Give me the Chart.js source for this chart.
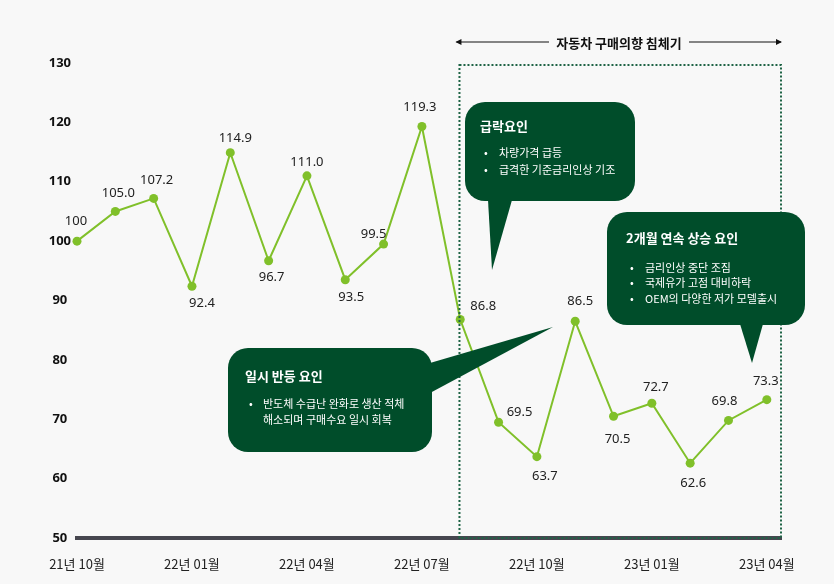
<!DOCTYPE html>
<html lang="ko">
<head>
    <meta charset="UTF-8">
    <title>자동차 구매의향</title>
    <script src="https://cdn.jsdelivr.net/npm/chart.js"></script>
    <style>
        body {
            margin: 0;
            padding: 0;
            background-color: #f8f8f8;
        }
        .chart-container {
            width: 834px;
            height: 584px;
        }
    </style>
</head>
<body>
    <div class="chart-container">
        <canvas id="intentChart"></canvas>
    </div>
    <script>
        // monthly purchase intent index, 21.10 = 100
        const months = ['21년 10월', '21년 11월', '21년 12월', '22년 01월', '22년 02월', '22년 03월', '22년 04월',
            '22년 05월', '22년 06월', '22년 07월', '22년 08월', '22년 09월', '22년 10월', '22년 11월',
            '22년 12월', '23년 01월', '23년 02월', '23년 03월', '23년 04월'];
        const values = [100, 105.0, 107.2, 92.4, 114.9, 96.7, 111.0, 93.5, 99.5, 119.3,
            86.8, 69.5, 63.7, 86.5, 70.5, 72.7, 62.6, 69.8, 73.3];
        const valueText = ['100', '105.0', '107.2', '92.4', '114.9', '96.7', '111.0', '93.5', '99.5', '119.3',
            '86.8', '69.5', '63.7', '86.5', '70.5', '72.7', '62.6', '69.8', '73.3'];
        const yTicks = [50, 60, 70, 80, 90, 100, 110, 120, 130];

        // label offsets from each point (px)
        const labelOffsets = [[-1, -20], [3, -18], [3, -18], [10, 17], [5, -14], [3, 17], [0, -14], [6, 18],
            [-10, -10], [-2, -19], [23, -13], [21, -10], [8, 20], [5, -20], [4, 23], [4, -16], [3, 20],
            [-4, -19], [-1, -18]];

        const GREEN = '#80c02a';
        const DARK = '#004d2a';
        const KR = '"Noto Sans CJK KR", "Noto Sans", sans-serif';

        const callouts = [
            {
                box: [465, 102, 635, 201], tail: [[488, 200], [512, 200], [492, 270]],
                title: '급락요인', tx: 480, ty: 126, bx: 486, lx: 499,
                lines: [['•', '차량가격 급등', 153], ['•', '급격한 기준금리인상 기조', 170]]
            },
            {
                box: [607, 212, 805, 325], tail: [[740, 324], [763, 324], [752, 363]],
                title: '2개월 연속 상승 요인', tx: 626, ty: 238, bx: 632, lx: 645,
                lines: [['•', '금리인상 중단 조짐', 268], ['•', '국제유가 고점 대비하락', 283], ['•', 'OEM의 다양한 저가 모델출시', 299]]
            },
            {
                box: [228, 348, 432, 452], tail: [[430, 363], [553, 327], [430, 393]],
                title: '일시 반등 요인', tx: 245, ty: 376, bx: 251, lx: 263,
                lines: [['•', '반도체 수급난 완화로 생산 적체', 404], ['', '해소되며 구매수요 일시 회복', 420]]
            }
        ];

        function roundRect(ctx, x1, y1, x2, y2, r) {
            ctx.beginPath();
            ctx.moveTo(x1 + r, y1);
            ctx.arcTo(x2, y1, x2, y2, r);
            ctx.arcTo(x2, y2, x1, y2, r);
            ctx.arcTo(x1, y2, x1, y1, r);
            ctx.arcTo(x1, y1, x2, y1, r);
            ctx.closePath();
        }

        const annotations = {
            id: 'annotations',
            afterDatasetsDraw(chart) {
                const ctx = chart.ctx;
                const meta = chart.getDatasetMeta(0);
                ctx.save();

                // value labels
                ctx.font = '13px "Noto Sans", sans-serif';
                ctx.fillStyle = '#222';
                ctx.textAlign = 'center';
                ctx.textBaseline = 'middle';
                meta.data.forEach((pt, i) => {
                    ctx.fillText(valueText[i], pt.x + labelOffsets[i][0], pt.y + labelOffsets[i][1]);
                });

                // dotted box for the slump period
                const xs = chart.scales.x;
                const left = xs.getPixelForValue(9.98);
                const right = chart.chartArea.right;
                const top = chart.chartArea.top + 2;
                const bottom = chart.chartArea.bottom;
                ctx.strokeStyle = '#1f6446';
                ctx.lineWidth = 2;
                ctx.setLineDash([2, 2]);
                ctx.strokeRect(left, top, right - left, bottom - top);
                ctx.setLineDash([]);

                // bracket title
                const by = 42;
                ctx.strokeStyle = '#111';
                ctx.fillStyle = '#111';
                ctx.lineWidth = 1;
                ctx.beginPath();
                ctx.moveTo(left - 3, by); ctx.lineTo(549, by);
                ctx.moveTo(689, by); ctx.lineTo(right, by);
                ctx.stroke();
                ctx.beginPath();
                ctx.moveTo(left - 4, by); ctx.lineTo(left + 2, by - 3); ctx.lineTo(left + 2, by + 3);
                ctx.closePath(); ctx.fill();
                ctx.beginPath();
                ctx.moveTo(right + 1, by); ctx.lineTo(right - 5, by - 3); ctx.lineTo(right - 5, by + 3);
                ctx.closePath(); ctx.fill();
                ctx.font = 'bold 13px ' + KR;
                ctx.textAlign = 'center';
                ctx.fillText('자동차 구매의향 침체기', 619, by + 1);

                // speech bubbles
                callouts.forEach(c => {
                    ctx.fillStyle = DARK;
                    roundRect(ctx, c.box[0], c.box[1], c.box[2], c.box[3], 20);
                    ctx.fill();
                    ctx.beginPath();
                    ctx.moveTo(c.tail[0][0], c.tail[0][1]);
                    ctx.lineTo(c.tail[1][0], c.tail[1][1]);
                    ctx.lineTo(c.tail[2][0], c.tail[2][1]);
                    ctx.closePath();
                    ctx.fill();

                    ctx.fillStyle = '#fff';
                    ctx.textAlign = 'left';
                    ctx.font = 'bold 13px ' + KR;
                    ctx.fillText(c.title, c.tx, c.ty);
                    ctx.font = '11px ' + KR;
                    c.lines.forEach(l => {
                        if (l[0]) ctx.fillText(l[0], c.bx - 2, l[2]);
                        ctx.fillText(l[1], c.lx, l[2]);
                    });
                });
                ctx.restore();
            }
        };

        const ctx = document.getElementById('intentChart').getContext('2d');
        new Chart(ctx, {
            type: 'line',
            data: {
                datasets: [{
                    data: values.map((v, i) => ({ x: i, y: v })),
                    borderColor: GREEN,
                    backgroundColor: GREEN,
                    borderWidth: 2,
                    pointRadius: 4.5,
                    pointBorderWidth: 0,
                    pointBackgroundColor: GREEN,
                    tension: 0,
                    clip: false
                }]
            },
            options: {
                responsive: true,
                maintainAspectRatio: false,
                animation: false,
                layout: {
                    padding: { top: 63, right: 53, bottom: 0, left: 0 }
                },
                plugins: {
                    legend: { display: false },
                    tooltip: { enabled: false }
                },
                scales: {
                    x: {
                        type: 'linear',
                        min: 0,
                        max: 18.37,
                        afterFit: s => { s.height = 46; },
                        afterBuildTicks: s => {
                            s.ticks = [0, 3, 6, 9, 12, 15, 18].map(v => ({ value: v }));
                        },
                        grid: { display: false },
                        border: { display: true, color: '#46464f', width: 4 },
                        ticks: {
                            padding: 10,
                            color: '#222',
                            font: { size: 13, family: KR },
                            callback: v => months[v] || ''
                        }
                    },
                    y: {
                        min: 50,
                        max: 130,
                        afterFit: s => { s.width = 77; },
                        afterBuildTicks: s => {
                            s.ticks = yTicks.map(v => ({ value: v }));
                        },
                        grid: { display: false },
                        border: { display: false },
                        ticks: {
                            padding: -2,
                            crossAlign: 'center',
                            color: '#111',
                            font: { size: 13, weight: 'bold', family: '"Noto Sans", sans-serif' }
                        }
                    }
                }
            },
            plugins: [annotations]
        });
    </script>
</body>
</html>
